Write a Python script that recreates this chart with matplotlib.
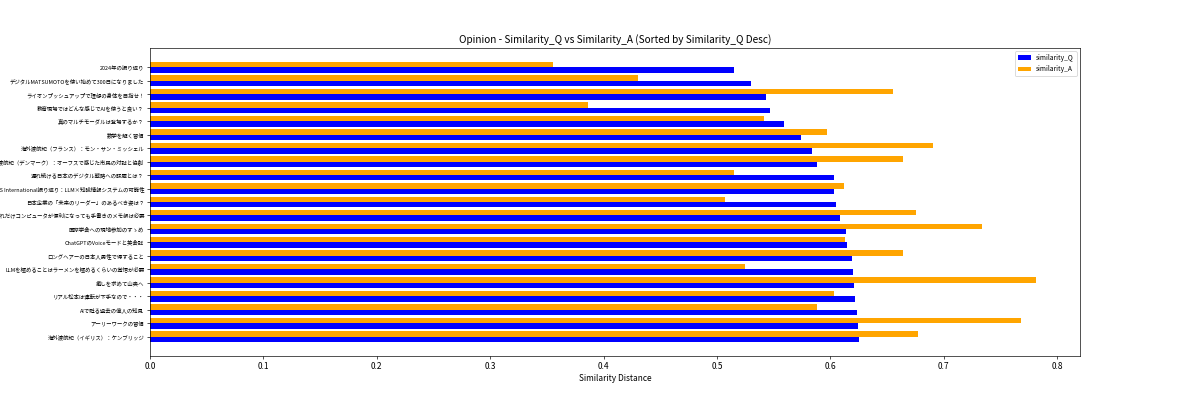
import numpy as np
import matplotlib
matplotlib.use("Agg")
import matplotlib.pyplot as plt

plt.rcParams['font.family'] = ['Noto Sans CJK JP', 'DejaVu Sans']

# sorted by similarity_Q, descending (first item is drawn at the bottom)
titles = [
    "海外渡航紀（イギリス）：ケンブリッジ",
    "アーリーワークの習慣",
    "AIで甦る過去の偉人の知見",
    "リアル松本は運転が下手なので・・・",
    "癒しを求めて山奥へ",
    "LLMを極めることはラーメンを極めるくらいの覚悟が必要",
    "ロングヘアーの日本人男性で得すること",
    "ChatGPTのVoiceモードと英会話",
    "国際学会への現地参加のすゝめ",
    "どれだけコンピュータが便利になっても手書きのメモ帳は必要",
    "日本企業の「未来のリーダー」のあるべき姿は？",
    "KES International振り返り：LLM×知識情報システムの可能性",
    "遅れ続ける日本のデジタル戦略への課題とは？",
    "海外渡航紀（デンマーク）：オーフスで感じた市民の対話と協創",
    "海外渡航紀（フランス）：モン・サン・ミッシェル",
    "数学を解く習慣",
    "真のマルチモーダルは登場するか？",
    "教育現場ではどんな感じでAIを使うと良い？",
    "ライオンプッシュアップで理想の身体を目指せ！",
    "デジタルMATSUMOTOを使い始めて300日になりました",
    "2024年の振り返り",
]
similarity_q = [0.625, 0.624, 0.623, 0.622, 0.621, 0.620, 0.619, 0.615, 0.614,
                0.608, 0.605, 0.603, 0.603, 0.588, 0.584, 0.574, 0.559, 0.547,
                0.543, 0.530, 0.515]
similarity_a = [0.677, 0.768, 0.588, 0.603, 0.781, 0.525, 0.664, 0.613, 0.734,
                0.675, 0.507, 0.612, 0.515, 0.664, 0.690, 0.597, 0.541, 0.386,
                0.655, 0.430, 0.355]

y = np.arange(len(titles))
h = 0.4

fig, ax = plt.subplots(figsize=(20, 20 / 3), dpi=60)
ax.barh(y - h / 2, similarity_q, h, color='blue', label='similarity_Q')
ax.barh(y + h / 2, similarity_a, h, color='orange', label='similarity_A')
ax.set_yticks(y)
ax.set_yticklabels(titles, fontsize=6.5)
ax.set_xlabel('Similarity Distance')
ax.set_title('Opinion - Similarity_Q vs Similarity_A (Sorted by Similarity_Q Desc)')
ax.legend(fontsize=8)

plt.savefig('out.png', dpi=60)
